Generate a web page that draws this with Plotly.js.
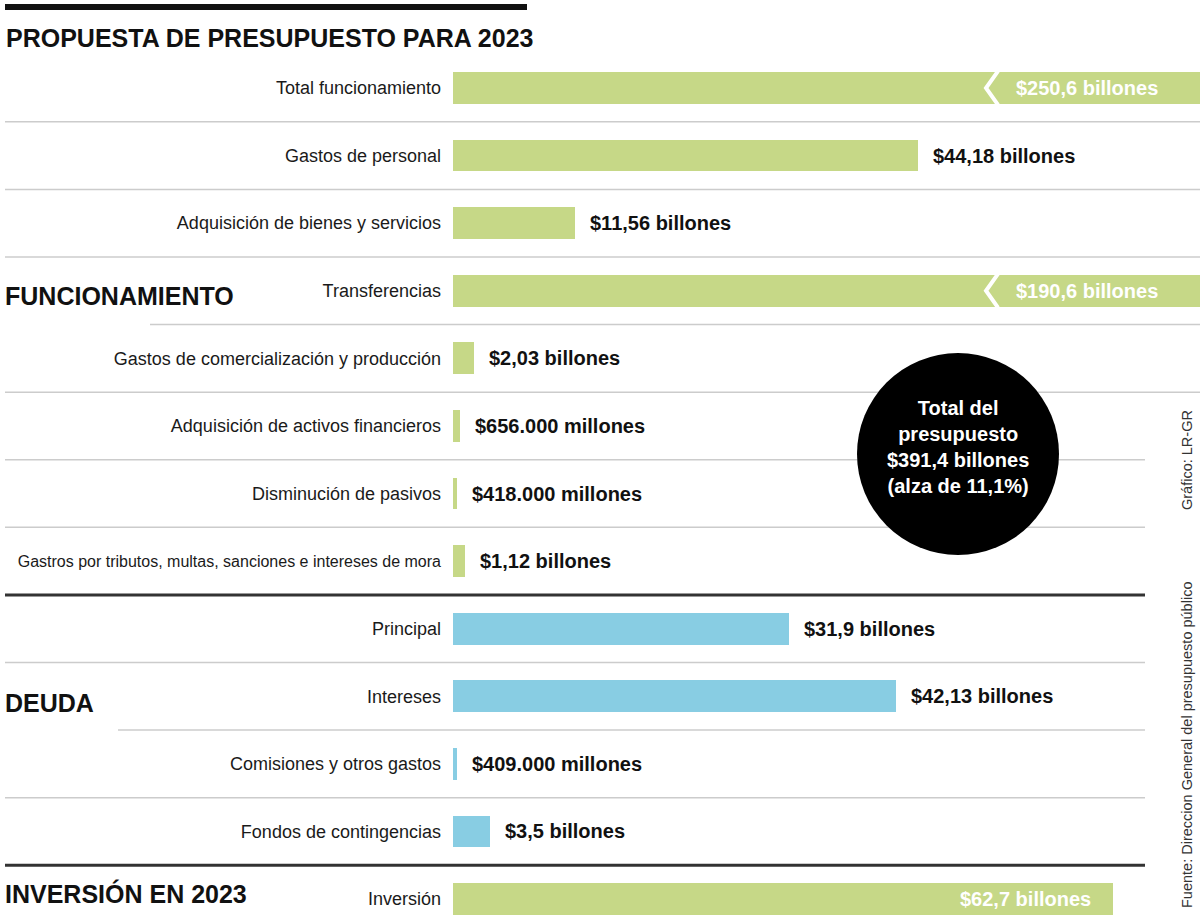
<!DOCTYPE html>
<html><head><meta charset="utf-8">
<script src="https://cdn.plot.ly/plotly-3.0.1.min.js"></script>
<style>html,body{margin:0;padding:0;background:#fff}#chart{width:1200px;height:920px}</style>
</head><body><div id="chart"></div>
<script>
const chartTitle = "PROPUESTA DE PRESUPUESTO PARA 2023";
const categories = [
  "Total funcionamiento",
  "Gastos de personal",
  "Adquisición de bienes y servicios",
  "Transferencias",
  "Gastos de comercialización y producción",
  "Adquisición de activos financieros",
  "Disminución de pasivos",
  "Gastros por tributos, multas, sanciones e intereses de mora",
  "Principal",
  "Intereses",
  "Comisiones y otros gastos",
  "Fondos de contingencias",
  "Inversión"
];
// billones de pesos
const values = [250.6, 44.18, 11.56, 190.6, 2.03, 0.656, 0.418, 1.12, 31.9, 42.13, 0.409, 3.5, 62.7];
const valueLabels = [
  "$250,6 billones", "$44,18 billones", "$11,56 billones", "$190,6 billones",
  "$2,03 billones", "$656.000 millones", "$418.000 millones", "$1,12 billones",
  "$31,9 billones", "$42,13 billones", "$409.000 millones", "$3,5 billones",
  "$62,7 billones"
];
const groups = ["func","func","func","func","func","func","func","func","deuda","deuda","deuda","deuda","inv"];
const sectionTitles = ["FUNCIONAMIENTO", "DEUDA", "INVERSIÓN EN 2023"];
const totalLines = ["Total del", "presupuesto", "$391,4 billones", "(alza de 11,1%)"];
const creditText = "Gráfico: LR-GR";
const sourceText = "Fuente: Direccion General del presupuesto público";

const groupColors = {func: "#c6d887", deuda: "#88cde3", inv: "#c6d887"};
const NARROW = "'Liberation Sans', Arial, sans-serif";
const W = 1200, H = 920;
const xMax = 71;           // visible end of the value axis; longer bars are cut
const insideThreshold = 50;
const px = v => v / W;
const py = v => 1 - v / H;

const trace = {
  type: "bar", orientation: "h",
  y: categories, x: values,
  width: 0.47,
  marker: {color: groups.map(g => groupColors[g]), line: {width: 0}},
  hoverinfo: "skip"
};

const annotations = [];
const shapes = [];

// value labels
values.forEach((v, i) => {
  const capped = v > xMax;
  if (v > insideThreshold) {
    annotations.push({
      xref: "x", yref: "y", x: capped ? xMax : v, y: i,
      xanchor: "right", yanchor: "middle", xshift: capped ? -40 : -20,
      text: valueLabels[i], showarrow: false,
      font: {family: NARROW, size: 20, color: "#ffffff", weight: 700}
    });
  } else {
    annotations.push({
      xref: "x", yref: "y", x: v, y: i,
      xanchor: "left", yanchor: "middle", xshift: 13,
      text: valueLabels[i], showarrow: false,
      font: {family: NARROW, size: 20, color: "#111111", weight: 700}
    });
  }
  if (capped) {
    shapes.push({
      type: "path", xref: "paper", yref: "y",
      path: `M ${px(998)},${i - 0.25} L ${px(986)},${i} L ${px(998)},${i + 0.25}`,
      line: {color: "#ffffff", width: 4}, layer: "above"
    });
  }
});

// separators between rows
const seps = [
  {k: 0.5, x0: 5, x1: 1200, dark: false},
  {k: 1.5, x0: 5, x1: 1200, dark: false},
  {k: 2.5, x0: 5, x1: 1200, dark: false},
  {k: 3.5, x0: 150, x1: 1200, dark: false},
  {k: 4.5, x0: 5, x1: 1200, dark: false},
  {k: 5.5, x0: 5, x1: 1145, dark: false},
  {k: 6.5, x0: 5, x1: 1145, dark: false},
  {k: 7.5, x0: 5, x1: 1145, dark: true},
  {k: 8.5, x0: 5, x1: 1145, dark: false},
  {k: 9.5, x0: 118, x1: 1145, dark: false},
  {k: 10.5, x0: 5, x1: 1145, dark: false},
  {k: 11.5, x0: 5, x1: 1145, dark: true}
];
seps.forEach(s => shapes.push({
  type: "line", xref: "paper", yref: "y",
  x0: px(s.x0), x1: px(s.x1), y0: s.k, y1: s.k,
  line: {color: s.dark ? "#333333" : "#cccccc", width: s.dark ? 3 : 1.5},
  layer: "below"
}));

// top rule
shapes.push({type: "rect", xref: "paper", yref: "paper",
  x0: px(5), x1: px(527), y0: py(10), y1: py(4),
  fillcolor: "#111111", line: {width: 0}});

// total circle
shapes.push({type: "circle", xref: "paper", yref: "paper",
  x0: px(857), x1: px(1059), y0: py(555), y1: py(353),
  fillcolor: "#000000", line: {width: 0}, layer: "above"});

annotations.push({
  xref: "paper", yref: "paper", x: px(4), y: py(38), xanchor: "left", yanchor: "middle",
  text: chartTitle, showarrow: false,
  font: {family: NARROW, size: 25, color: "#111111", weight: 700}
});

const sectionY = [296, 703, 893];
sectionTitles.forEach((t, j) => annotations.push({
  xref: "paper", yref: "paper", x: px(3), y: py(sectionY[j]), xanchor: "left", yanchor: "middle",
  text: t, showarrow: false,
  font: {family: NARROW, size: 25, color: "#111111", weight: 700}
}));

annotations.push({
  xref: "paper", yref: "paper", x: px(958), y: py(447), xanchor: "center", yanchor: "middle",
  text: totalLines.join("<br>"), showarrow: false, align: "center",
  font: {family: NARROW, size: 20, color: "#ffffff", weight: 700}
});

annotations.push({
  xref: "paper", yref: "paper", x: px(1187), y: py(460), xanchor: "center", yanchor: "middle",
  text: creditText, textangle: -90, showarrow: false,
  font: {family: NARROW, size: 14.5, color: "#333333"}
});
annotations.push({
  xref: "paper", yref: "paper", x: px(1187), y: py(745), xanchor: "center", yanchor: "middle",
  text: sourceText, textangle: -90, showarrow: false,
  font: {family: NARROW, size: 14.5, color: "#333333"}
});

// long labels are set a little smaller so they fit left of the bars
const tickText = categories.map(c => c.length > 45 ? `<span style="font-size:16px">${c}</span>` : c);

// row 0 centre at 88px, row 12 centre at 899px
const rowH = (899 - 88) / 12;
const layout = {
  width: W, height: H,
  margin: {l: 0, r: 0, t: 0, b: 0, pad: 0},
  paper_bgcolor: "#ffffff", plot_bgcolor: "rgba(0,0,0,0)",
  showlegend: false,
  bargap: 0,
  xaxis: {domain: [453 / W, 1], range: [0, xMax], visible: false, fixedrange: true},
  yaxis: {
    type: "category", categoryorder: "array", categoryarray: categories,
    tickmode: "array", tickvals: categories, ticktext: tickText,
    range: [12 + (H - 899) / rowH, -88 / rowH],
    autorange: false,
    ticks: "", showgrid: false, zeroline: false, showline: false,
    ticklabelstandoff: 11, automargin: false,
    tickfont: {family: NARROW, size: 18, color: "#1a1a1a"}
  },
  shapes: shapes,
  annotations: annotations
};

Plotly.newPlot("chart", [trace], layout, {displayModeBar: false, staticPlot: true});
</script>
</body></html>
